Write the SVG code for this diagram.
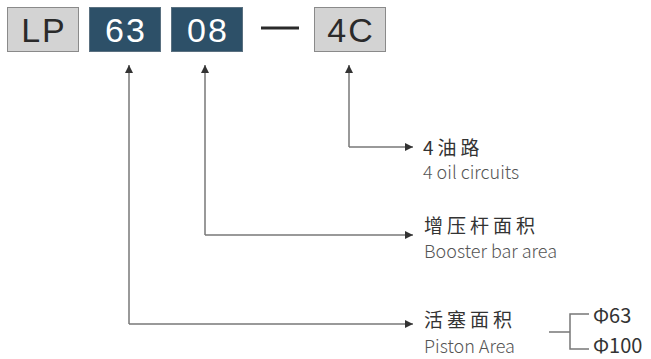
<svg xmlns="http://www.w3.org/2000/svg" width="651" height="359" viewBox="0 0 651 359">
<style>
.gb{fill:#d3d3d3;stroke:#8a8a8a;stroke-width:1}
.db{fill:#2d5068;stroke:#5a7080;stroke-width:1}
.bt{font-family:"Liberation Sans",Arial,sans-serif;font-size:34px;text-anchor:middle;letter-spacing:2px}
.cn{font-family:"Noto Sans CJK SC",sans-serif;font-size:19px;fill:#333;letter-spacing:4px}
.en{font-family:"Noto Sans CJK SC",sans-serif;font-size:18px;fill:#555;font-weight:300}
.ph{font-family:"Noto Sans CJK SC",sans-serif;font-size:20px;fill:#333}
.ln{fill:none;stroke:#777;stroke-width:1.5}
</style>
<defs>
<marker id="ah" viewBox="0 0 10 10" refX="10" refY="5" markerWidth="8" markerHeight="8" markerUnits="userSpaceOnUse" orient="auto">
<path d="M0,0 L10,5 L0,10 Z" fill="#333"/>
</marker>
</defs>
<g id="box-lp"><rect class="gb" x="7.5" y="7.5" width="71" height="44"/><text class="bt" x="44" y="42" fill="#2a2a2a">LP</text></g>
<g id="box-63"><rect class="db" x="89.5" y="7.5" width="71" height="44"/><text class="bt" x="126" y="42" fill="#fff">63</text></g>
<g id="box-08"><rect class="db" x="171.5" y="7.5" width="71" height="44"/><text class="bt" x="208" y="42" fill="#fff">08</text></g>
<g id="dash"><rect x="261" y="26.5" width="38" height="3" fill="#2a2a2a"/></g>
<g id="box-4c"><rect class="gb" x="314.5" y="7.5" width="71" height="44"/><text class="bt" x="351" y="42" fill="#2a2a2a">4C</text></g>
<g id="connectors">
<path class="ln" d="M349,147 V65" marker-end="url(#ah)"/>
<path class="ln" d="M349,147 H413" marker-end="url(#ah)"/>
<path class="ln" d="M205,235 V65" marker-end="url(#ah)"/>
<path class="ln" d="M205,235 H413" marker-end="url(#ah)"/>
<path class="ln" d="M129,324 V65" marker-end="url(#ah)"/>
<path class="ln" d="M129,324 H413" marker-end="url(#ah)"/>
<path class="ln" d="M549,332 H570 M589,314 H570 V349 H589"/>
</g>
<g id="label-4c"><text class="cn" x="423" y="155">4油路</text><text class="en" x="423" y="178.5">4 oil circuits</text></g>
<g id="label-08"><text class="cn" x="424" y="233">增压杆面积</text><text class="en" x="424" y="257.5">Booster bar area</text></g>
<g id="label-63"><text class="cn" x="424" y="327">活塞面积</text><text class="en" x="424" y="352.5">Piston Area</text></g>
<g id="opts"><text class="ph" x="593" y="323">Φ63</text><text class="ph" x="593" y="353">Φ100</text></g>
</svg>
